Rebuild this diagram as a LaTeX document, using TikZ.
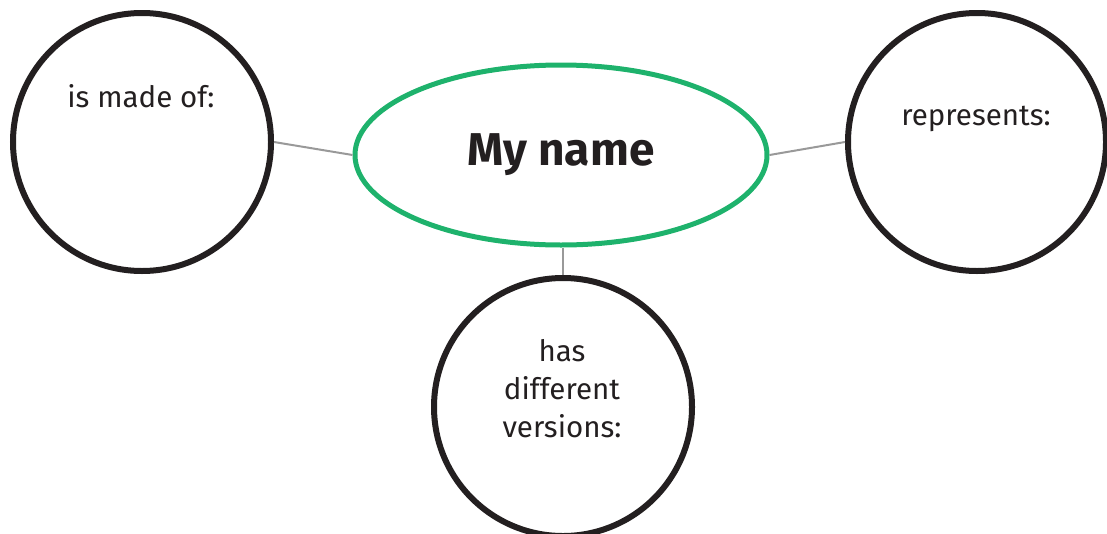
\documentclass[tikz,border=0pt]{standalone}
\usepackage{fontspec}
\setmainfont{Fira Sans}
\usepackage{tikz}
\usetikzlibrary{shapes.geometric}
\definecolor{ringcol}{HTML}{231F20}
\definecolor{namecol}{HTML}{1EB26C}
\colorlet{linkcol}{black!40!white}
\colorlet{textcol}{ringcol}
\tikzset{
  ring/.style={circle, draw=ringcol, line width=6pt, minimum size=258pt, inner sep=0pt},
  namebox/.style={ellipse, draw=namecol, line width=5pt, minimum width=412pt,
    minimum height=180pt, inner sep=0pt, text=textcol,
    font=\fontsize{46}{54}\selectfont\bfseries},
  ringtext/.style={text=textcol, align=center, font=\fontsize{29.5}{38}\selectfont},
  link/.style={draw=linkcol, line width=2pt}
}

\begin{document}
\begin{tikzpicture}[x=1pt, y=-1pt]

  % Frame of the page.
  \useasboundingbox (0,0) rectangle (1107,533);

  % Centre ellipse.
  \node[namebox] (myname) at (561,155) {My name};

  % Outer circles.
  \node[ring] (madeof) at (142,142) {};
  \node[ring] (represents) at (977,142) {};
  \node[ring] (versions) at (563,407) {};

  % Texts in the circles.
  \node[ringtext] (madeoftext) at (141,96) {is made of:};
  \node[ringtext] (representstext) at (976,119) {represents:};
  \node[ringtext] (versionstext) at (562,389) {has\\different\\versions:};

  % Links to the centre.
  \draw[link] (madeof.east) -- (myname.west);
  \draw[link] (represents.west) -- (myname.east);
  \draw[link] (versions.north) -- (versions.north |- myname.south);

\end{tikzpicture}
\end{document}
